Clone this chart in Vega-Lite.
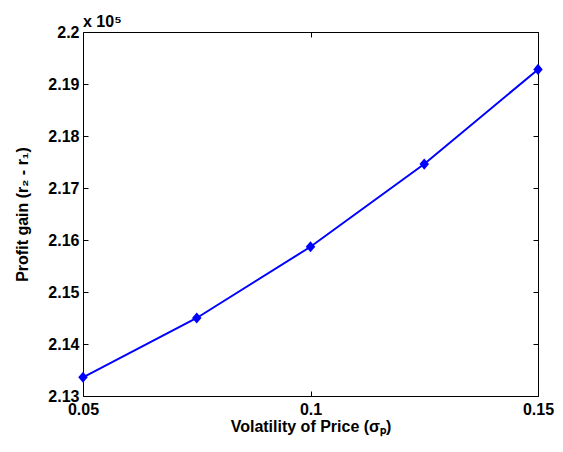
{
  "$schema": "https://vega.github.io/schema/vega-lite/v6.json",
  "width": 455,
  "height": 364,
  "autosize": {"type": "none"},
  "padding": {"left": 83, "top": 32, "right": 25, "bottom": 56},
  "background": "white",
  "title": {
    "text": "x 10⁵",
    "anchor": "start",
    "frame": "group",
    "baseline": "alphabetic",
    "offset": 5,
    "dy": 24,
    "font": "Liberation Sans",
    "fontSize": 16,
    "fontWeight": "bold",
    "color": "black"
  },
  "config": {
    "view": {"stroke": null},
    "axis": {
      "grid": false,
      "domainColor": "black",
      "domainWidth": 1,
      "tickColor": "black",
      "tickWidth": 1,
      "tickSize": -5,
      "labelFont": "Liberation Sans",
      "labelFontSize": 16,
      "labelFontWeight": "bold",
      "labelColor": "black",
      "titleFont": "Liberation Sans",
      "titleFontSize": 16,
      "titleFontWeight": "bold",
      "titleColor": "black"
    }
  },
  "data": {
    "values": [
      {"volatility": 0.05, "gain": 213360},
      {"volatility": 0.075, "gain": 214500},
      {"volatility": 0.1, "gain": 215870},
      {"volatility": 0.125, "gain": 217460},
      {"volatility": 0.15, "gain": 219280}
    ]
  },
  "resolve": {"axis": {"x": "independent", "y": "independent"}},
  "layer": [
    {
      "mark": {"type": "line", "color": "#0000FF", "strokeWidth": 2},
      "encoding": {
        "x": {
          "field": "volatility",
          "type": "quantitative",
          "scale": {"domain": [0.05, 0.15], "nice": false, "zero": false},
          "axis": {
            "orient": "bottom",
            "title": "Volatility of Price (σₚ)",
            "values": [0.05, 0.1, 0.15],
            "labelExpr": "format(datum.value, '~g')",
            "labelPadding": 10,
            "labelFlush": false,
            "labelOverlap": false,
            "titlePadding": 1
          }
        },
        "y": {
          "field": "gain",
          "type": "quantitative",
          "scale": {"domain": [213000, 220000], "nice": false, "zero": false},
          "axis": {
            "orient": "left",
            "title": "Profit gain (r₂ - r₁)",
            "values": [213000, 214000, 215000, 216000, 217000, 218000, 219000, 220000],
            "labelExpr": "format(datum.value / 100000, '.3~f')",
            "labelPadding": 9,
            "labelFlush": false,
            "labelOverlap": false,
            "titlePadding": 17
          }
        }
      }
    },
    {
      "mark": {
        "type": "point",
        "shape": "M0,-1L0.85,0L0,1L-0.85,0Z",
        "filled": true,
        "color": "#0000FF",
        "opacity": 1,
        "size": 125
      },
      "encoding": {
        "x": {
          "field": "volatility",
          "type": "quantitative",
          "axis": {"orient": "top", "title": null, "labels": false, "values": [0.05, 0.1, 0.15]}
        },
        "y": {
          "field": "gain",
          "type": "quantitative",
          "axis": {
            "orient": "right",
            "title": null,
            "labels": false,
            "values": [213000, 214000, 215000, 216000, 217000, 218000, 219000, 220000]
          }
        }
      }
    }
  ]
}
